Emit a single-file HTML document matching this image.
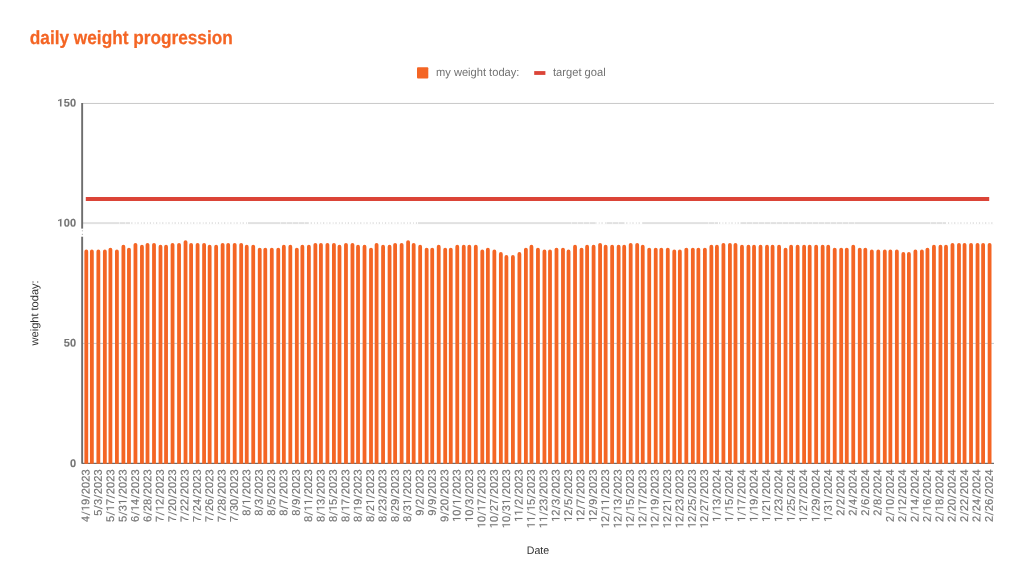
<!DOCTYPE html>
<html><head><meta charset="utf-8"><title>daily weight progression</title>
<style>
html,body{margin:0;padding:0;background:#fff;}
body{width:1023px;height:585px;overflow:hidden;}
svg{display:block;will-change:transform;}
text{font-family:"Liberation Sans",sans-serif;text-rendering:geometricPrecision;}
.t{font-size:11.1px;fill:#757575;stroke:#757575;stroke-width:0.18px;}
.p{fill:#757575;stroke:#757575;stroke-width:0.1px;}
.h{fill:none;stroke:none;}
.yt{font-size:11px;font-weight:bold;fill:#757575;stroke:#757575;stroke-width:0.12px;letter-spacing:0.25px;}
</style></head><body>
<svg width="1023" height="585" viewBox="0 0 1023 585">
<rect x="0" y="0" width="1023" height="585" fill="#ffffff"/>
<text x="29.8" y="44.1" font-size="19" font-weight="bold" fill="#F46524" stroke="#F46524" stroke-width="0.25" textLength="203" lengthAdjust="spacingAndGlyphs">daily weight progression</text>
<rect x="417" y="67.3" width="11.3" height="11.2" rx="1" fill="#F46524"/>
<text x="436" y="76.1" font-size="11.5" fill="#727272" textLength="83.4" lengthAdjust="spacingAndGlyphs">my weight today:</text>
<rect x="534.2" y="71.1" width="11.2" height="3.8" fill="#DB4437"/>
<text x="553" y="76.1" font-size="11.5" fill="#727272" textLength="52.7" lengthAdjust="spacingAndGlyphs">target goal</text>
<rect x="83" y="102.95" width="911" height="0.95" fill="#c6c6c6"/>
<rect x="83" y="222.1" width="911" height="2" fill="#e1e1e1"/>
<rect x="83" y="342.9" width="911" height="1.1" fill="#c9d1d6"/>
<line x1="130" y1="223.1" x2="248" y2="223.1" stroke="#ffffff" stroke-width="2.3" stroke-dasharray="2.3 0.8 1.9 1.187" stroke-dashoffset="3.74"/>
<line x1="308" y1="223.1" x2="418" y2="223.1" stroke="#ffffff" stroke-width="2.3" stroke-dasharray="2.3 0.8 1.9 1.187" stroke-dashoffset="2.31"/>
<line x1="595" y1="223.1" x2="606" y2="223.1" stroke="#ffffff" stroke-width="2.3" stroke-dasharray="2.3 0.8 1.9 1.187" stroke-dashoffset="4.71"/>
<line x1="625" y1="223.1" x2="643" y2="223.1" stroke="#ffffff" stroke-width="2.3" stroke-dasharray="2.3 0.8 1.9 1.187" stroke-dashoffset="3.78"/>
<line x1="718" y1="223.1" x2="740" y2="223.1" stroke="#ffffff" stroke-width="2.3" stroke-dasharray="2.3 0.8 1.9 1.187" stroke-dashoffset="3.97"/>
<line x1="946" y1="223.1" x2="994" y2="223.1" stroke="#ffffff" stroke-width="2.3" stroke-dasharray="2.3 0.8 1.9 1.187" stroke-dashoffset="3.05"/>
<line x1="119" y1="223.1" x2="130" y2="223.1" stroke="#ffffff" stroke-width="2.2" stroke-dasharray="0.5 5.5"/>
<line x1="280" y1="223.1" x2="308" y2="223.1" stroke="#ffffff" stroke-width="2.2" stroke-dasharray="0.5 5.5"/>
<line x1="571" y1="223.1" x2="595" y2="223.1" stroke="#ffffff" stroke-width="2.2" stroke-dasharray="0.5 5.5"/>
<line x1="606" y1="223.1" x2="625" y2="223.1" stroke="#ffffff" stroke-width="2.2" stroke-dasharray="0.5 5.5"/>
<line x1="708" y1="223.1" x2="718" y2="223.1" stroke="#ffffff" stroke-width="2.2" stroke-dasharray="0.5 5.5"/>
<line x1="740" y1="223.1" x2="856" y2="223.1" stroke="#ffffff" stroke-width="2.2" stroke-dasharray="0.5 5.5"/>
<line x1="930" y1="223.1" x2="946" y2="223.1" stroke="#ffffff" stroke-width="2.2" stroke-dasharray="0.5 5.5"/>
<rect x="82" y="462.8" width="912" height="1.1" fill="#5c5c5c"/>
<path fill="#F46524" d="M84.40 463.8V251.40A1.90 1.90 0 0 1 88.20 251.40V463.8ZM89.96 463.8V251.40A1.90 1.90 0 0 1 93.76 251.40V463.8ZM96.46 463.8V251.40A1.90 1.90 0 0 1 100.26 251.40V463.8ZM102.95 463.8V251.40A1.90 1.90 0 0 1 106.75 251.40V463.8ZM108.51 463.8V249.60A1.90 1.90 0 0 1 112.31 249.60V463.8ZM115.00 463.8V251.40A1.90 1.90 0 0 1 118.80 251.40V463.8ZM121.50 463.8V246.70A1.90 1.90 0 0 1 125.30 246.70V463.8ZM127.06 463.8V249.60A1.90 1.90 0 0 1 130.86 249.60V463.8ZM133.55 463.8V244.80A1.90 1.90 0 0 1 137.35 244.80V463.8ZM140.04 463.8V246.70A1.90 1.90 0 0 1 143.84 246.70V463.8ZM145.61 463.8V244.80A1.90 1.90 0 0 1 149.41 244.80V463.8ZM152.10 463.8V244.80A1.90 1.90 0 0 1 155.90 244.80V463.8ZM158.59 463.8V246.70A1.90 1.90 0 0 1 162.39 246.70V463.8ZM164.16 463.8V246.70A1.90 1.90 0 0 1 167.96 246.70V463.8ZM170.65 463.8V244.80A1.90 1.90 0 0 1 174.45 244.80V463.8ZM177.14 463.8V244.80A1.90 1.90 0 0 1 180.94 244.80V463.8ZM183.63 463.8V242.10A1.90 1.90 0 0 1 187.43 242.10V463.8ZM189.20 463.8V244.80A1.90 1.90 0 0 1 193.00 244.80V463.8ZM195.69 463.8V244.80A1.90 1.90 0 0 1 199.49 244.80V463.8ZM202.18 463.8V244.80A1.90 1.90 0 0 1 205.98 244.80V463.8ZM207.74 463.8V246.70A1.90 1.90 0 0 1 211.54 246.70V463.8ZM214.24 463.8V246.70A1.90 1.90 0 0 1 218.04 246.70V463.8ZM220.73 463.8V244.80A1.90 1.90 0 0 1 224.53 244.80V463.8ZM226.29 463.8V244.80A1.90 1.90 0 0 1 230.09 244.80V463.8ZM232.78 463.8V244.80A1.90 1.90 0 0 1 236.58 244.80V463.8ZM239.28 463.8V244.80A1.90 1.90 0 0 1 243.08 244.80V463.8ZM244.84 463.8V246.70A1.90 1.90 0 0 1 248.64 246.70V463.8ZM251.33 463.8V246.70A1.90 1.90 0 0 1 255.13 246.70V463.8ZM257.82 463.8V249.60A1.90 1.90 0 0 1 261.62 249.60V463.8ZM263.39 463.8V249.60A1.90 1.90 0 0 1 267.19 249.60V463.8ZM269.88 463.8V249.60A1.90 1.90 0 0 1 273.68 249.60V463.8ZM276.37 463.8V249.60A1.90 1.90 0 0 1 280.17 249.60V463.8ZM281.94 463.8V246.70A1.90 1.90 0 0 1 285.74 246.70V463.8ZM288.43 463.8V246.70A1.90 1.90 0 0 1 292.23 246.70V463.8ZM294.92 463.8V249.60A1.90 1.90 0 0 1 298.72 249.60V463.8ZM300.48 463.8V246.70A1.90 1.90 0 0 1 304.28 246.70V463.8ZM306.98 463.8V246.70A1.90 1.90 0 0 1 310.78 246.70V463.8ZM313.47 463.8V244.80A1.90 1.90 0 0 1 317.27 244.80V463.8ZM319.03 463.8V244.80A1.90 1.90 0 0 1 322.83 244.80V463.8ZM325.52 463.8V244.80A1.90 1.90 0 0 1 329.32 244.80V463.8ZM332.02 463.8V244.80A1.90 1.90 0 0 1 335.82 244.80V463.8ZM337.58 463.8V246.70A1.90 1.90 0 0 1 341.38 246.70V463.8ZM344.07 463.8V244.80A1.90 1.90 0 0 1 347.87 244.80V463.8ZM350.56 463.8V244.80A1.90 1.90 0 0 1 354.36 244.80V463.8ZM356.13 463.8V246.70A1.90 1.90 0 0 1 359.93 246.70V463.8ZM362.62 463.8V246.70A1.90 1.90 0 0 1 366.42 246.70V463.8ZM369.11 463.8V249.60A1.90 1.90 0 0 1 372.91 249.60V463.8ZM374.68 463.8V244.80A1.90 1.90 0 0 1 378.48 244.80V463.8ZM381.17 463.8V246.70A1.90 1.90 0 0 1 384.97 246.70V463.8ZM387.66 463.8V246.70A1.90 1.90 0 0 1 391.46 246.70V463.8ZM393.22 463.8V244.80A1.90 1.90 0 0 1 397.02 244.80V463.8ZM399.72 463.8V244.80A1.90 1.90 0 0 1 403.52 244.80V463.8ZM406.21 463.8V242.10A1.90 1.90 0 0 1 410.01 242.10V463.8ZM411.77 463.8V244.80A1.90 1.90 0 0 1 415.57 244.80V463.8ZM418.26 463.8V246.70A1.90 1.90 0 0 1 422.06 246.70V463.8ZM424.76 463.8V249.60A1.90 1.90 0 0 1 428.56 249.60V463.8ZM430.32 463.8V249.60A1.90 1.90 0 0 1 434.12 249.60V463.8ZM436.81 463.8V246.70A1.90 1.90 0 0 1 440.61 246.70V463.8ZM443.30 463.8V249.60A1.90 1.90 0 0 1 447.10 249.60V463.8ZM448.87 463.8V249.60A1.90 1.90 0 0 1 452.67 249.60V463.8ZM455.36 463.8V246.70A1.90 1.90 0 0 1 459.16 246.70V463.8ZM461.85 463.8V246.70A1.90 1.90 0 0 1 465.65 246.70V463.8ZM467.42 463.8V246.70A1.90 1.90 0 0 1 471.22 246.70V463.8ZM473.91 463.8V246.70A1.90 1.90 0 0 1 477.71 246.70V463.8ZM480.40 463.8V251.40A1.90 1.90 0 0 1 484.20 251.40V463.8ZM485.96 463.8V249.60A1.90 1.90 0 0 1 489.76 249.60V463.8ZM492.46 463.8V251.40A1.90 1.90 0 0 1 496.26 251.40V463.8ZM498.95 463.8V254.00A1.90 1.90 0 0 1 502.75 254.00V463.8ZM504.51 463.8V257.00A1.90 1.90 0 0 1 508.31 257.00V463.8ZM511.00 463.8V257.00A1.90 1.90 0 0 1 514.80 257.00V463.8ZM517.50 463.8V254.00A1.90 1.90 0 0 1 521.30 254.00V463.8ZM523.99 463.8V249.60A1.90 1.90 0 0 1 527.79 249.60V463.8ZM529.55 463.8V246.70A1.90 1.90 0 0 1 533.35 246.70V463.8ZM536.04 463.8V249.60A1.90 1.90 0 0 1 539.84 249.60V463.8ZM542.54 463.8V251.40A1.90 1.90 0 0 1 546.34 251.40V463.8ZM548.10 463.8V251.40A1.90 1.90 0 0 1 551.90 251.40V463.8ZM554.59 463.8V249.60A1.90 1.90 0 0 1 558.39 249.60V463.8ZM561.08 463.8V249.60A1.90 1.90 0 0 1 564.88 249.60V463.8ZM566.65 463.8V251.40A1.90 1.90 0 0 1 570.45 251.40V463.8ZM573.14 463.8V246.70A1.90 1.90 0 0 1 576.94 246.70V463.8ZM579.63 463.8V249.60A1.90 1.90 0 0 1 583.43 249.60V463.8ZM585.20 463.8V246.70A1.90 1.90 0 0 1 589.00 246.70V463.8ZM591.69 463.8V246.70A1.90 1.90 0 0 1 595.49 246.70V463.8ZM598.18 463.8V244.80A1.90 1.90 0 0 1 601.98 244.80V463.8ZM603.74 463.8V246.70A1.90 1.90 0 0 1 607.54 246.70V463.8ZM610.24 463.8V246.70A1.90 1.90 0 0 1 614.04 246.70V463.8ZM616.73 463.8V246.70A1.90 1.90 0 0 1 620.53 246.70V463.8ZM622.29 463.8V246.70A1.90 1.90 0 0 1 626.09 246.70V463.8ZM628.78 463.8V244.80A1.90 1.90 0 0 1 632.58 244.80V463.8ZM635.28 463.8V244.80A1.90 1.90 0 0 1 639.08 244.80V463.8ZM640.84 463.8V246.70A1.90 1.90 0 0 1 644.64 246.70V463.8ZM647.33 463.8V249.60A1.90 1.90 0 0 1 651.13 249.60V463.8ZM653.82 463.8V249.60A1.90 1.90 0 0 1 657.62 249.60V463.8ZM659.39 463.8V249.60A1.90 1.90 0 0 1 663.19 249.60V463.8ZM665.88 463.8V249.60A1.90 1.90 0 0 1 669.68 249.60V463.8ZM672.37 463.8V251.40A1.90 1.90 0 0 1 676.17 251.40V463.8ZM677.94 463.8V251.40A1.90 1.90 0 0 1 681.74 251.40V463.8ZM684.43 463.8V249.60A1.90 1.90 0 0 1 688.23 249.60V463.8ZM690.92 463.8V249.60A1.90 1.90 0 0 1 694.72 249.60V463.8ZM696.48 463.8V249.60A1.90 1.90 0 0 1 700.28 249.60V463.8ZM702.98 463.8V249.60A1.90 1.90 0 0 1 706.78 249.60V463.8ZM709.47 463.8V246.70A1.90 1.90 0 0 1 713.27 246.70V463.8ZM715.03 463.8V246.70A1.90 1.90 0 0 1 718.83 246.70V463.8ZM721.52 463.8V244.80A1.90 1.90 0 0 1 725.32 244.80V463.8ZM728.02 463.8V244.80A1.90 1.90 0 0 1 731.82 244.80V463.8ZM733.58 463.8V244.80A1.90 1.90 0 0 1 737.38 244.80V463.8ZM740.07 463.8V246.70A1.90 1.90 0 0 1 743.87 246.70V463.8ZM746.56 463.8V246.70A1.90 1.90 0 0 1 750.36 246.70V463.8ZM752.13 463.8V246.70A1.90 1.90 0 0 1 755.93 246.70V463.8ZM758.62 463.8V246.70A1.90 1.90 0 0 1 762.42 246.70V463.8ZM765.11 463.8V246.70A1.90 1.90 0 0 1 768.91 246.70V463.8ZM770.68 463.8V246.70A1.90 1.90 0 0 1 774.48 246.70V463.8ZM777.17 463.8V246.70A1.90 1.90 0 0 1 780.97 246.70V463.8ZM783.66 463.8V249.60A1.90 1.90 0 0 1 787.46 249.60V463.8ZM789.22 463.8V246.70A1.90 1.90 0 0 1 793.02 246.70V463.8ZM795.72 463.8V246.70A1.90 1.90 0 0 1 799.52 246.70V463.8ZM802.21 463.8V246.70A1.90 1.90 0 0 1 806.01 246.70V463.8ZM807.77 463.8V246.70A1.90 1.90 0 0 1 811.57 246.70V463.8ZM814.26 463.8V246.70A1.90 1.90 0 0 1 818.06 246.70V463.8ZM820.76 463.8V246.70A1.90 1.90 0 0 1 824.56 246.70V463.8ZM826.32 463.8V246.70A1.90 1.90 0 0 1 830.12 246.70V463.8ZM832.81 463.8V249.60A1.90 1.90 0 0 1 836.61 249.60V463.8ZM839.30 463.8V249.60A1.90 1.90 0 0 1 843.10 249.60V463.8ZM844.87 463.8V249.60A1.90 1.90 0 0 1 848.67 249.60V463.8ZM851.36 463.8V246.70A1.90 1.90 0 0 1 855.16 246.70V463.8ZM857.85 463.8V249.60A1.90 1.90 0 0 1 861.65 249.60V463.8ZM863.42 463.8V249.60A1.90 1.90 0 0 1 867.22 249.60V463.8ZM869.91 463.8V251.40A1.90 1.90 0 0 1 873.71 251.40V463.8ZM876.40 463.8V251.40A1.90 1.90 0 0 1 880.20 251.40V463.8ZM882.89 463.8V251.40A1.90 1.90 0 0 1 886.69 251.40V463.8ZM888.46 463.8V251.40A1.90 1.90 0 0 1 892.26 251.40V463.8ZM894.95 463.8V251.40A1.90 1.90 0 0 1 898.75 251.40V463.8ZM901.44 463.8V254.00A1.90 1.90 0 0 1 905.24 254.00V463.8ZM907.00 463.8V254.00A1.90 1.90 0 0 1 910.80 254.00V463.8ZM913.50 463.8V251.40A1.90 1.90 0 0 1 917.30 251.40V463.8ZM919.99 463.8V251.40A1.90 1.90 0 0 1 923.79 251.40V463.8ZM925.55 463.8V249.60A1.90 1.90 0 0 1 929.35 249.60V463.8ZM932.04 463.8V246.70A1.90 1.90 0 0 1 935.84 246.70V463.8ZM938.54 463.8V246.70A1.90 1.90 0 0 1 942.34 246.70V463.8ZM944.10 463.8V246.70A1.90 1.90 0 0 1 947.90 246.70V463.8ZM950.59 463.8V244.80A1.90 1.90 0 0 1 954.39 244.80V463.8ZM957.08 463.8V244.80A1.90 1.90 0 0 1 960.88 244.80V463.8ZM962.65 463.8V244.80A1.90 1.90 0 0 1 966.45 244.80V463.8ZM969.14 463.8V244.80A1.90 1.90 0 0 1 972.94 244.80V463.8ZM975.63 463.8V244.80A1.90 1.90 0 0 1 979.43 244.80V463.8ZM981.20 463.8V244.80A1.90 1.90 0 0 1 985.00 244.80V463.8ZM987.69 463.8V244.80A1.90 1.90 0 0 1 991.49 244.80V463.8Z"/>
<rect x="83" y="342.9" width="911" height="1" fill="#ffffff" opacity="0.04"/>
<rect x="81.2" y="103" width="1.9" height="360.7" fill="#6e6e6e"/>
<rect x="80" y="228.6" width="5" height="8.1" fill="#ffffff"/>
<rect x="81.9" y="230.2" width="0.7" height="1.2" fill="#9a9a9a"/>
<rect x="81.9" y="233.8" width="0.7" height="1.2" fill="#8a8a8a"/>
<rect x="85.8" y="197" width="903.4" height="4" fill="#DB4437"/>
<text class="yt" transform="translate(76.45 106.6) rotate(0.03)" text-anchor="end"><tspan class="h">1</tspan>50</text>
<path fill="#757575" d="M61.50 106.60H59.95V100.62L58.10 101.19V99.93L61.34 98.78H61.50Z"/>
<text class="yt" transform="translate(76.45 226.6) rotate(0.03)" text-anchor="end"><tspan class="h">1</tspan>00</text>
<path fill="#757575" d="M61.50 226.60H59.95V220.62L58.10 221.19V219.93L61.34 218.78H61.50Z"/>
<text class="yt" transform="translate(76.45 346.6) rotate(0.03)" text-anchor="end">50</text>
<text class="yt" transform="translate(76.45 466.9) rotate(0.03)" text-anchor="end">0</text>
<text font-size="11" fill="#303030" transform="translate(38.3 345.4) rotate(-89.95)" textLength="65" lengthAdjust="spacingAndGlyphs">weight today:</text>
<text x="526.8" y="554" font-size="11" fill="#303030" textLength="22.4" lengthAdjust="spacingAndGlyphs">Date</text>
<g transform="translate(89.40 469.3) rotate(-89.95)"><text class="t" x="-52.62 -46.42 -41.87 -35.63 -29.43 -24.86 -18.64 -12.42 -6.20">4<tspan class="h">/1</tspan>9<tspan class="h">/</tspan>2023</text><path class="p" d="M-45.29 0.67H-46.09L-43.08 -7.82H-42.28ZM-37.95 0H-38.95V-6.62L-40.95 -5.89V-6.79L-38.11 -7.86H-37.95ZM-28.30 0.67H-29.10L-26.09 -7.82H-25.29Z"/></g>
<g transform="translate(101.77 469.3) rotate(-89.95)"><text class="t" x="-46.40 -40.20 -35.63 -29.43 -24.86 -18.64 -12.42 -6.20">5<tspan class="h">/</tspan>3<tspan class="h">/</tspan>2023</text><path class="p" d="M-39.07 0.67H-39.87L-36.86 -7.82H-36.06ZM-28.30 0.67H-29.10L-26.09 -7.82H-25.29Z"/></g>
<g transform="translate(114.15 469.3) rotate(-89.95)"><text class="t" x="-52.62 -46.42 -41.87 -35.63 -29.43 -24.86 -18.64 -12.42 -6.20">5<tspan class="h">/1</tspan>7<tspan class="h">/</tspan>2023</text><path class="p" d="M-45.29 0.67H-46.09L-43.08 -7.82H-42.28ZM-37.95 0H-38.95V-6.62L-40.95 -5.89V-6.79L-38.11 -7.86H-37.95ZM-28.30 0.67H-29.10L-26.09 -7.82H-25.29Z"/></g>
<g transform="translate(126.52 469.3) rotate(-89.95)"><text class="t" x="-52.62 -46.42 -41.85 -35.65 -29.43 -24.86 -18.64 -12.42 -6.20">5<tspan class="h">/</tspan>3<tspan class="h">1/</tspan>2023</text><path class="p" d="M-45.29 0.67H-46.09L-43.08 -7.82H-42.28ZM-31.73 0H-32.73V-6.62L-34.73 -5.89V-6.79L-31.89 -7.86H-31.73ZM-28.30 0.67H-29.10L-26.09 -7.82H-25.29Z"/></g>
<g transform="translate(138.90 469.3) rotate(-89.95)"><text class="t" x="-52.62 -46.42 -41.87 -35.63 -29.43 -24.86 -18.64 -12.42 -6.20">6<tspan class="h">/1</tspan>4<tspan class="h">/</tspan>2023</text><path class="p" d="M-45.29 0.67H-46.09L-43.08 -7.82H-42.28ZM-37.95 0H-38.95V-6.62L-40.95 -5.89V-6.79L-38.11 -7.86H-37.95ZM-28.30 0.67H-29.10L-26.09 -7.82H-25.29Z"/></g>
<g transform="translate(151.27 469.3) rotate(-89.95)"><text class="t" x="-52.62 -46.42 -41.85 -35.63 -29.43 -24.86 -18.64 -12.42 -6.20">6<tspan class="h">/</tspan>28<tspan class="h">/</tspan>2023</text><path class="p" d="M-45.29 0.67H-46.09L-43.08 -7.82H-42.28ZM-28.30 0.67H-29.10L-26.09 -7.82H-25.29Z"/></g>
<g transform="translate(163.64 469.3) rotate(-89.95)"><text class="t" x="-52.62 -46.42 -41.87 -35.63 -29.43 -24.86 -18.64 -12.42 -6.20">7<tspan class="h">/1</tspan>2<tspan class="h">/</tspan>2023</text><path class="p" d="M-45.29 0.67H-46.09L-43.08 -7.82H-42.28ZM-37.95 0H-38.95V-6.62L-40.95 -5.89V-6.79L-38.11 -7.86H-37.95ZM-28.30 0.67H-29.10L-26.09 -7.82H-25.29Z"/></g>
<g transform="translate(176.02 469.3) rotate(-89.95)"><text class="t" x="-52.62 -46.42 -41.85 -35.63 -29.43 -24.86 -18.64 -12.42 -6.20">7<tspan class="h">/</tspan>20<tspan class="h">/</tspan>2023</text><path class="p" d="M-45.29 0.67H-46.09L-43.08 -7.82H-42.28ZM-28.30 0.67H-29.10L-26.09 -7.82H-25.29Z"/></g>
<g transform="translate(188.39 469.3) rotate(-89.95)"><text class="t" x="-52.62 -46.42 -41.85 -35.63 -29.43 -24.86 -18.64 -12.42 -6.20">7<tspan class="h">/</tspan>22<tspan class="h">/</tspan>2023</text><path class="p" d="M-45.29 0.67H-46.09L-43.08 -7.82H-42.28ZM-28.30 0.67H-29.10L-26.09 -7.82H-25.29Z"/></g>
<g transform="translate(200.77 469.3) rotate(-89.95)"><text class="t" x="-52.62 -46.42 -41.85 -35.63 -29.43 -24.86 -18.64 -12.42 -6.20">7<tspan class="h">/</tspan>24<tspan class="h">/</tspan>2023</text><path class="p" d="M-45.29 0.67H-46.09L-43.08 -7.82H-42.28ZM-28.30 0.67H-29.10L-26.09 -7.82H-25.29Z"/></g>
<g transform="translate(213.14 469.3) rotate(-89.95)"><text class="t" x="-52.62 -46.42 -41.85 -35.63 -29.43 -24.86 -18.64 -12.42 -6.20">7<tspan class="h">/</tspan>26<tspan class="h">/</tspan>2023</text><path class="p" d="M-45.29 0.67H-46.09L-43.08 -7.82H-42.28ZM-28.30 0.67H-29.10L-26.09 -7.82H-25.29Z"/></g>
<g transform="translate(225.51 469.3) rotate(-89.95)"><text class="t" x="-52.62 -46.42 -41.85 -35.63 -29.43 -24.86 -18.64 -12.42 -6.20">7<tspan class="h">/</tspan>28<tspan class="h">/</tspan>2023</text><path class="p" d="M-45.29 0.67H-46.09L-43.08 -7.82H-42.28ZM-28.30 0.67H-29.10L-26.09 -7.82H-25.29Z"/></g>
<g transform="translate(237.89 469.3) rotate(-89.95)"><text class="t" x="-52.62 -46.42 -41.85 -35.63 -29.43 -24.86 -18.64 -12.42 -6.20">7<tspan class="h">/</tspan>30<tspan class="h">/</tspan>2023</text><path class="p" d="M-45.29 0.67H-46.09L-43.08 -7.82H-42.28ZM-28.30 0.67H-29.10L-26.09 -7.82H-25.29Z"/></g>
<g transform="translate(250.26 469.3) rotate(-89.95)"><text class="t" x="-46.40 -40.20 -35.65 -29.43 -24.86 -18.64 -12.42 -6.20">8<tspan class="h">/1/</tspan>2023</text><path class="p" d="M-39.07 0.67H-39.87L-36.86 -7.82H-36.06ZM-31.73 0H-32.73V-6.62L-34.73 -5.89V-6.79L-31.89 -7.86H-31.73ZM-28.30 0.67H-29.10L-26.09 -7.82H-25.29Z"/></g>
<g transform="translate(262.64 469.3) rotate(-89.95)"><text class="t" x="-46.40 -40.20 -35.63 -29.43 -24.86 -18.64 -12.42 -6.20">8<tspan class="h">/</tspan>3<tspan class="h">/</tspan>2023</text><path class="p" d="M-39.07 0.67H-39.87L-36.86 -7.82H-36.06ZM-28.30 0.67H-29.10L-26.09 -7.82H-25.29Z"/></g>
<g transform="translate(275.01 469.3) rotate(-89.95)"><text class="t" x="-46.40 -40.20 -35.63 -29.43 -24.86 -18.64 -12.42 -6.20">8<tspan class="h">/</tspan>5<tspan class="h">/</tspan>2023</text><path class="p" d="M-39.07 0.67H-39.87L-36.86 -7.82H-36.06ZM-28.30 0.67H-29.10L-26.09 -7.82H-25.29Z"/></g>
<g transform="translate(287.38 469.3) rotate(-89.95)"><text class="t" x="-46.40 -40.20 -35.63 -29.43 -24.86 -18.64 -12.42 -6.20">8<tspan class="h">/</tspan>7<tspan class="h">/</tspan>2023</text><path class="p" d="M-39.07 0.67H-39.87L-36.86 -7.82H-36.06ZM-28.30 0.67H-29.10L-26.09 -7.82H-25.29Z"/></g>
<g transform="translate(299.76 469.3) rotate(-89.95)"><text class="t" x="-46.40 -40.20 -35.63 -29.43 -24.86 -18.64 -12.42 -6.20">8<tspan class="h">/</tspan>9<tspan class="h">/</tspan>2023</text><path class="p" d="M-39.07 0.67H-39.87L-36.86 -7.82H-36.06ZM-28.30 0.67H-29.10L-26.09 -7.82H-25.29Z"/></g>
<g transform="translate(312.13 469.3) rotate(-89.95)"><text class="t" x="-52.62 -46.42 -41.87 -35.65 -29.43 -24.86 -18.64 -12.42 -6.20">8<tspan class="h">/11/</tspan>2023</text><path class="p" d="M-45.29 0.67H-46.09L-43.08 -7.82H-42.28ZM-37.95 0H-38.95V-6.62L-40.95 -5.89V-6.79L-38.11 -7.86H-37.95ZM-31.73 0H-32.73V-6.62L-34.73 -5.89V-6.79L-31.89 -7.86H-31.73ZM-28.30 0.67H-29.10L-26.09 -7.82H-25.29Z"/></g>
<g transform="translate(324.51 469.3) rotate(-89.95)"><text class="t" x="-52.62 -46.42 -41.87 -35.63 -29.43 -24.86 -18.64 -12.42 -6.20">8<tspan class="h">/1</tspan>3<tspan class="h">/</tspan>2023</text><path class="p" d="M-45.29 0.67H-46.09L-43.08 -7.82H-42.28ZM-37.95 0H-38.95V-6.62L-40.95 -5.89V-6.79L-38.11 -7.86H-37.95ZM-28.30 0.67H-29.10L-26.09 -7.82H-25.29Z"/></g>
<g transform="translate(336.88 469.3) rotate(-89.95)"><text class="t" x="-52.62 -46.42 -41.87 -35.63 -29.43 -24.86 -18.64 -12.42 -6.20">8<tspan class="h">/1</tspan>5<tspan class="h">/</tspan>2023</text><path class="p" d="M-45.29 0.67H-46.09L-43.08 -7.82H-42.28ZM-37.95 0H-38.95V-6.62L-40.95 -5.89V-6.79L-38.11 -7.86H-37.95ZM-28.30 0.67H-29.10L-26.09 -7.82H-25.29Z"/></g>
<g transform="translate(349.25 469.3) rotate(-89.95)"><text class="t" x="-52.62 -46.42 -41.87 -35.63 -29.43 -24.86 -18.64 -12.42 -6.20">8<tspan class="h">/1</tspan>7<tspan class="h">/</tspan>2023</text><path class="p" d="M-45.29 0.67H-46.09L-43.08 -7.82H-42.28ZM-37.95 0H-38.95V-6.62L-40.95 -5.89V-6.79L-38.11 -7.86H-37.95ZM-28.30 0.67H-29.10L-26.09 -7.82H-25.29Z"/></g>
<g transform="translate(361.63 469.3) rotate(-89.95)"><text class="t" x="-52.62 -46.42 -41.87 -35.63 -29.43 -24.86 -18.64 -12.42 -6.20">8<tspan class="h">/1</tspan>9<tspan class="h">/</tspan>2023</text><path class="p" d="M-45.29 0.67H-46.09L-43.08 -7.82H-42.28ZM-37.95 0H-38.95V-6.62L-40.95 -5.89V-6.79L-38.11 -7.86H-37.95ZM-28.30 0.67H-29.10L-26.09 -7.82H-25.29Z"/></g>
<g transform="translate(374.00 469.3) rotate(-89.95)"><text class="t" x="-52.62 -46.42 -41.85 -35.65 -29.43 -24.86 -18.64 -12.42 -6.20">8<tspan class="h">/</tspan>2<tspan class="h">1/</tspan>2023</text><path class="p" d="M-45.29 0.67H-46.09L-43.08 -7.82H-42.28ZM-31.73 0H-32.73V-6.62L-34.73 -5.89V-6.79L-31.89 -7.86H-31.73ZM-28.30 0.67H-29.10L-26.09 -7.82H-25.29Z"/></g>
<g transform="translate(386.38 469.3) rotate(-89.95)"><text class="t" x="-52.62 -46.42 -41.85 -35.63 -29.43 -24.86 -18.64 -12.42 -6.20">8<tspan class="h">/</tspan>23<tspan class="h">/</tspan>2023</text><path class="p" d="M-45.29 0.67H-46.09L-43.08 -7.82H-42.28ZM-28.30 0.67H-29.10L-26.09 -7.82H-25.29Z"/></g>
<g transform="translate(398.75 469.3) rotate(-89.95)"><text class="t" x="-52.62 -46.42 -41.85 -35.63 -29.43 -24.86 -18.64 -12.42 -6.20">8<tspan class="h">/</tspan>29<tspan class="h">/</tspan>2023</text><path class="p" d="M-45.29 0.67H-46.09L-43.08 -7.82H-42.28ZM-28.30 0.67H-29.10L-26.09 -7.82H-25.29Z"/></g>
<g transform="translate(411.12 469.3) rotate(-89.95)"><text class="t" x="-52.62 -46.42 -41.85 -35.65 -29.43 -24.86 -18.64 -12.42 -6.20">8<tspan class="h">/</tspan>3<tspan class="h">1/</tspan>2023</text><path class="p" d="M-45.29 0.67H-46.09L-43.08 -7.82H-42.28ZM-31.73 0H-32.73V-6.62L-34.73 -5.89V-6.79L-31.89 -7.86H-31.73ZM-28.30 0.67H-29.10L-26.09 -7.82H-25.29Z"/></g>
<g transform="translate(423.50 469.3) rotate(-89.95)"><text class="t" x="-46.40 -40.20 -35.63 -29.43 -24.86 -18.64 -12.42 -6.20">9<tspan class="h">/</tspan>2<tspan class="h">/</tspan>2023</text><path class="p" d="M-39.07 0.67H-39.87L-36.86 -7.82H-36.06ZM-28.30 0.67H-29.10L-26.09 -7.82H-25.29Z"/></g>
<g transform="translate(435.87 469.3) rotate(-89.95)"><text class="t" x="-46.40 -40.20 -35.63 -29.43 -24.86 -18.64 -12.42 -6.20">9<tspan class="h">/</tspan>9<tspan class="h">/</tspan>2023</text><path class="p" d="M-39.07 0.67H-39.87L-36.86 -7.82H-36.06ZM-28.30 0.67H-29.10L-26.09 -7.82H-25.29Z"/></g>
<g transform="translate(448.25 469.3) rotate(-89.95)"><text class="t" x="-52.62 -46.42 -41.85 -35.63 -29.43 -24.86 -18.64 -12.42 -6.20">9<tspan class="h">/</tspan>20<tspan class="h">/</tspan>2023</text><path class="p" d="M-45.29 0.67H-46.09L-43.08 -7.82H-42.28ZM-28.30 0.67H-29.10L-26.09 -7.82H-25.29Z"/></g>
<g transform="translate(460.62 469.3) rotate(-89.95)"><text class="t" x="-52.64 -46.40 -40.20 -35.65 -29.43 -24.86 -18.64 -12.42 -6.20"><tspan class="h">1</tspan>0<tspan class="h">/1/</tspan>2023</text><path class="p" d="M-48.72 0H-49.72V-6.62L-51.72 -5.89V-6.79L-48.88 -7.86H-48.72ZM-39.07 0.67H-39.87L-36.86 -7.82H-36.06ZM-31.73 0H-32.73V-6.62L-34.73 -5.89V-6.79L-31.89 -7.86H-31.73ZM-28.30 0.67H-29.10L-26.09 -7.82H-25.29Z"/></g>
<g transform="translate(472.99 469.3) rotate(-89.95)"><text class="t" x="-52.64 -46.40 -40.20 -35.63 -29.43 -24.86 -18.64 -12.42 -6.20"><tspan class="h">1</tspan>0<tspan class="h">/</tspan>3<tspan class="h">/</tspan>2023</text><path class="p" d="M-48.72 0H-49.72V-6.62L-51.72 -5.89V-6.79L-48.88 -7.86H-48.72ZM-39.07 0.67H-39.87L-36.86 -7.82H-36.06ZM-28.30 0.67H-29.10L-26.09 -7.82H-25.29Z"/></g>
<g transform="translate(485.37 469.3) rotate(-89.95)"><text class="t" x="-58.86 -52.62 -46.42 -41.87 -35.63 -29.43 -24.86 -18.64 -12.42 -6.20"><tspan class="h">1</tspan>0<tspan class="h">/1</tspan>7<tspan class="h">/</tspan>2023</text><path class="p" d="M-54.94 0H-55.94V-6.62L-57.94 -5.89V-6.79L-55.10 -7.86H-54.94ZM-45.29 0.67H-46.09L-43.08 -7.82H-42.28ZM-37.95 0H-38.95V-6.62L-40.95 -5.89V-6.79L-38.11 -7.86H-37.95ZM-28.30 0.67H-29.10L-26.09 -7.82H-25.29Z"/></g>
<g transform="translate(497.74 469.3) rotate(-89.95)"><text class="t" x="-58.86 -52.62 -46.42 -41.85 -35.63 -29.43 -24.86 -18.64 -12.42 -6.20"><tspan class="h">1</tspan>0<tspan class="h">/</tspan>27<tspan class="h">/</tspan>2023</text><path class="p" d="M-54.94 0H-55.94V-6.62L-57.94 -5.89V-6.79L-55.10 -7.86H-54.94ZM-45.29 0.67H-46.09L-43.08 -7.82H-42.28ZM-28.30 0.67H-29.10L-26.09 -7.82H-25.29Z"/></g>
<g transform="translate(510.12 469.3) rotate(-89.95)"><text class="t" x="-58.86 -52.62 -46.42 -41.85 -35.65 -29.43 -24.86 -18.64 -12.42 -6.20"><tspan class="h">1</tspan>0<tspan class="h">/</tspan>3<tspan class="h">1/</tspan>2023</text><path class="p" d="M-54.94 0H-55.94V-6.62L-57.94 -5.89V-6.79L-55.10 -7.86H-54.94ZM-45.29 0.67H-46.09L-43.08 -7.82H-42.28ZM-31.73 0H-32.73V-6.62L-34.73 -5.89V-6.79L-31.89 -7.86H-31.73ZM-28.30 0.67H-29.10L-26.09 -7.82H-25.29Z"/></g>
<g transform="translate(522.49 469.3) rotate(-89.95)"><text class="t" x="-52.64 -46.42 -40.20 -35.63 -29.43 -24.86 -18.64 -12.42 -6.20"><tspan class="h">11/</tspan>2<tspan class="h">/</tspan>2023</text><path class="p" d="M-48.72 0H-49.72V-6.62L-51.72 -5.89V-6.79L-48.88 -7.86H-48.72ZM-42.50 0H-43.50V-6.62L-45.50 -5.89V-6.79L-42.66 -7.86H-42.50ZM-39.07 0.67H-39.87L-36.86 -7.82H-36.06ZM-28.30 0.67H-29.10L-26.09 -7.82H-25.29Z"/></g>
<g transform="translate(534.86 469.3) rotate(-89.95)"><text class="t" x="-58.86 -52.64 -46.42 -41.87 -35.63 -29.43 -24.86 -18.64 -12.42 -6.20"><tspan class="h">11/1</tspan>5<tspan class="h">/</tspan>2023</text><path class="p" d="M-54.94 0H-55.94V-6.62L-57.94 -5.89V-6.79L-55.10 -7.86H-54.94ZM-48.72 0H-49.72V-6.62L-51.72 -5.89V-6.79L-48.88 -7.86H-48.72ZM-45.29 0.67H-46.09L-43.08 -7.82H-42.28ZM-37.95 0H-38.95V-6.62L-40.95 -5.89V-6.79L-38.11 -7.86H-37.95ZM-28.30 0.67H-29.10L-26.09 -7.82H-25.29Z"/></g>
<g transform="translate(547.24 469.3) rotate(-89.95)"><text class="t" x="-58.86 -52.64 -46.42 -41.85 -35.63 -29.43 -24.86 -18.64 -12.42 -6.20"><tspan class="h">11/</tspan>23<tspan class="h">/</tspan>2023</text><path class="p" d="M-54.94 0H-55.94V-6.62L-57.94 -5.89V-6.79L-55.10 -7.86H-54.94ZM-48.72 0H-49.72V-6.62L-51.72 -5.89V-6.79L-48.88 -7.86H-48.72ZM-45.29 0.67H-46.09L-43.08 -7.82H-42.28ZM-28.30 0.67H-29.10L-26.09 -7.82H-25.29Z"/></g>
<g transform="translate(559.61 469.3) rotate(-89.95)"><text class="t" x="-52.64 -46.40 -40.20 -35.63 -29.43 -24.86 -18.64 -12.42 -6.20"><tspan class="h">1</tspan>2<tspan class="h">/</tspan>3<tspan class="h">/</tspan>2023</text><path class="p" d="M-48.72 0H-49.72V-6.62L-51.72 -5.89V-6.79L-48.88 -7.86H-48.72ZM-39.07 0.67H-39.87L-36.86 -7.82H-36.06ZM-28.30 0.67H-29.10L-26.09 -7.82H-25.29Z"/></g>
<g transform="translate(571.99 469.3) rotate(-89.95)"><text class="t" x="-52.64 -46.40 -40.20 -35.63 -29.43 -24.86 -18.64 -12.42 -6.20"><tspan class="h">1</tspan>2<tspan class="h">/</tspan>5<tspan class="h">/</tspan>2023</text><path class="p" d="M-48.72 0H-49.72V-6.62L-51.72 -5.89V-6.79L-48.88 -7.86H-48.72ZM-39.07 0.67H-39.87L-36.86 -7.82H-36.06ZM-28.30 0.67H-29.10L-26.09 -7.82H-25.29Z"/></g>
<g transform="translate(584.36 469.3) rotate(-89.95)"><text class="t" x="-52.64 -46.40 -40.20 -35.63 -29.43 -24.86 -18.64 -12.42 -6.20"><tspan class="h">1</tspan>2<tspan class="h">/</tspan>7<tspan class="h">/</tspan>2023</text><path class="p" d="M-48.72 0H-49.72V-6.62L-51.72 -5.89V-6.79L-48.88 -7.86H-48.72ZM-39.07 0.67H-39.87L-36.86 -7.82H-36.06ZM-28.30 0.67H-29.10L-26.09 -7.82H-25.29Z"/></g>
<g transform="translate(596.73 469.3) rotate(-89.95)"><text class="t" x="-52.64 -46.40 -40.20 -35.63 -29.43 -24.86 -18.64 -12.42 -6.20"><tspan class="h">1</tspan>2<tspan class="h">/</tspan>9<tspan class="h">/</tspan>2023</text><path class="p" d="M-48.72 0H-49.72V-6.62L-51.72 -5.89V-6.79L-48.88 -7.86H-48.72ZM-39.07 0.67H-39.87L-36.86 -7.82H-36.06ZM-28.30 0.67H-29.10L-26.09 -7.82H-25.29Z"/></g>
<g transform="translate(609.11 469.3) rotate(-89.95)"><text class="t" x="-58.86 -52.62 -46.42 -41.87 -35.65 -29.43 -24.86 -18.64 -12.42 -6.20"><tspan class="h">1</tspan>2<tspan class="h">/11/</tspan>2023</text><path class="p" d="M-54.94 0H-55.94V-6.62L-57.94 -5.89V-6.79L-55.10 -7.86H-54.94ZM-45.29 0.67H-46.09L-43.08 -7.82H-42.28ZM-37.95 0H-38.95V-6.62L-40.95 -5.89V-6.79L-38.11 -7.86H-37.95ZM-31.73 0H-32.73V-6.62L-34.73 -5.89V-6.79L-31.89 -7.86H-31.73ZM-28.30 0.67H-29.10L-26.09 -7.82H-25.29Z"/></g>
<g transform="translate(621.48 469.3) rotate(-89.95)"><text class="t" x="-58.86 -52.62 -46.42 -41.87 -35.63 -29.43 -24.86 -18.64 -12.42 -6.20"><tspan class="h">1</tspan>2<tspan class="h">/1</tspan>3<tspan class="h">/</tspan>2023</text><path class="p" d="M-54.94 0H-55.94V-6.62L-57.94 -5.89V-6.79L-55.10 -7.86H-54.94ZM-45.29 0.67H-46.09L-43.08 -7.82H-42.28ZM-37.95 0H-38.95V-6.62L-40.95 -5.89V-6.79L-38.11 -7.86H-37.95ZM-28.30 0.67H-29.10L-26.09 -7.82H-25.29Z"/></g>
<g transform="translate(633.86 469.3) rotate(-89.95)"><text class="t" x="-58.86 -52.62 -46.42 -41.87 -35.63 -29.43 -24.86 -18.64 -12.42 -6.20"><tspan class="h">1</tspan>2<tspan class="h">/1</tspan>5<tspan class="h">/</tspan>2023</text><path class="p" d="M-54.94 0H-55.94V-6.62L-57.94 -5.89V-6.79L-55.10 -7.86H-54.94ZM-45.29 0.67H-46.09L-43.08 -7.82H-42.28ZM-37.95 0H-38.95V-6.62L-40.95 -5.89V-6.79L-38.11 -7.86H-37.95ZM-28.30 0.67H-29.10L-26.09 -7.82H-25.29Z"/></g>
<g transform="translate(646.23 469.3) rotate(-89.95)"><text class="t" x="-58.86 -52.62 -46.42 -41.87 -35.63 -29.43 -24.86 -18.64 -12.42 -6.20"><tspan class="h">1</tspan>2<tspan class="h">/1</tspan>7<tspan class="h">/</tspan>2023</text><path class="p" d="M-54.94 0H-55.94V-6.62L-57.94 -5.89V-6.79L-55.10 -7.86H-54.94ZM-45.29 0.67H-46.09L-43.08 -7.82H-42.28ZM-37.95 0H-38.95V-6.62L-40.95 -5.89V-6.79L-38.11 -7.86H-37.95ZM-28.30 0.67H-29.10L-26.09 -7.82H-25.29Z"/></g>
<g transform="translate(658.60 469.3) rotate(-89.95)"><text class="t" x="-58.86 -52.62 -46.42 -41.87 -35.63 -29.43 -24.86 -18.64 -12.42 -6.20"><tspan class="h">1</tspan>2<tspan class="h">/1</tspan>9<tspan class="h">/</tspan>2023</text><path class="p" d="M-54.94 0H-55.94V-6.62L-57.94 -5.89V-6.79L-55.10 -7.86H-54.94ZM-45.29 0.67H-46.09L-43.08 -7.82H-42.28ZM-37.95 0H-38.95V-6.62L-40.95 -5.89V-6.79L-38.11 -7.86H-37.95ZM-28.30 0.67H-29.10L-26.09 -7.82H-25.29Z"/></g>
<g transform="translate(670.98 469.3) rotate(-89.95)"><text class="t" x="-58.86 -52.62 -46.42 -41.85 -35.65 -29.43 -24.86 -18.64 -12.42 -6.20"><tspan class="h">1</tspan>2<tspan class="h">/</tspan>2<tspan class="h">1/</tspan>2023</text><path class="p" d="M-54.94 0H-55.94V-6.62L-57.94 -5.89V-6.79L-55.10 -7.86H-54.94ZM-45.29 0.67H-46.09L-43.08 -7.82H-42.28ZM-31.73 0H-32.73V-6.62L-34.73 -5.89V-6.79L-31.89 -7.86H-31.73ZM-28.30 0.67H-29.10L-26.09 -7.82H-25.29Z"/></g>
<g transform="translate(683.35 469.3) rotate(-89.95)"><text class="t" x="-58.86 -52.62 -46.42 -41.85 -35.63 -29.43 -24.86 -18.64 -12.42 -6.20"><tspan class="h">1</tspan>2<tspan class="h">/</tspan>23<tspan class="h">/</tspan>2023</text><path class="p" d="M-54.94 0H-55.94V-6.62L-57.94 -5.89V-6.79L-55.10 -7.86H-54.94ZM-45.29 0.67H-46.09L-43.08 -7.82H-42.28ZM-28.30 0.67H-29.10L-26.09 -7.82H-25.29Z"/></g>
<g transform="translate(695.73 469.3) rotate(-89.95)"><text class="t" x="-58.86 -52.62 -46.42 -41.85 -35.63 -29.43 -24.86 -18.64 -12.42 -6.20"><tspan class="h">1</tspan>2<tspan class="h">/</tspan>25<tspan class="h">/</tspan>2023</text><path class="p" d="M-54.94 0H-55.94V-6.62L-57.94 -5.89V-6.79L-55.10 -7.86H-54.94ZM-45.29 0.67H-46.09L-43.08 -7.82H-42.28ZM-28.30 0.67H-29.10L-26.09 -7.82H-25.29Z"/></g>
<g transform="translate(708.10 469.3) rotate(-89.95)"><text class="t" x="-58.86 -52.62 -46.42 -41.85 -35.63 -29.43 -24.86 -18.64 -12.42 -6.20"><tspan class="h">1</tspan>2<tspan class="h">/</tspan>27<tspan class="h">/</tspan>2023</text><path class="p" d="M-54.94 0H-55.94V-6.62L-57.94 -5.89V-6.79L-55.10 -7.86H-54.94ZM-45.29 0.67H-46.09L-43.08 -7.82H-42.28ZM-28.30 0.67H-29.10L-26.09 -7.82H-25.29Z"/></g>
<g transform="translate(720.47 469.3) rotate(-89.95)"><text class="t" x="-52.64 -46.42 -41.87 -35.63 -29.43 -24.86 -18.64 -12.42 -6.20"><tspan class="h">1/1</tspan>3<tspan class="h">/</tspan>2024</text><path class="p" d="M-48.72 0H-49.72V-6.62L-51.72 -5.89V-6.79L-48.88 -7.86H-48.72ZM-45.29 0.67H-46.09L-43.08 -7.82H-42.28ZM-37.95 0H-38.95V-6.62L-40.95 -5.89V-6.79L-38.11 -7.86H-37.95ZM-28.30 0.67H-29.10L-26.09 -7.82H-25.29Z"/></g>
<g transform="translate(732.85 469.3) rotate(-89.95)"><text class="t" x="-52.64 -46.42 -41.87 -35.63 -29.43 -24.86 -18.64 -12.42 -6.20"><tspan class="h">1/1</tspan>5<tspan class="h">/</tspan>2024</text><path class="p" d="M-48.72 0H-49.72V-6.62L-51.72 -5.89V-6.79L-48.88 -7.86H-48.72ZM-45.29 0.67H-46.09L-43.08 -7.82H-42.28ZM-37.95 0H-38.95V-6.62L-40.95 -5.89V-6.79L-38.11 -7.86H-37.95ZM-28.30 0.67H-29.10L-26.09 -7.82H-25.29Z"/></g>
<g transform="translate(745.22 469.3) rotate(-89.95)"><text class="t" x="-52.64 -46.42 -41.87 -35.63 -29.43 -24.86 -18.64 -12.42 -6.20"><tspan class="h">1/1</tspan>7<tspan class="h">/</tspan>2024</text><path class="p" d="M-48.72 0H-49.72V-6.62L-51.72 -5.89V-6.79L-48.88 -7.86H-48.72ZM-45.29 0.67H-46.09L-43.08 -7.82H-42.28ZM-37.95 0H-38.95V-6.62L-40.95 -5.89V-6.79L-38.11 -7.86H-37.95ZM-28.30 0.67H-29.10L-26.09 -7.82H-25.29Z"/></g>
<g transform="translate(757.60 469.3) rotate(-89.95)"><text class="t" x="-52.64 -46.42 -41.87 -35.63 -29.43 -24.86 -18.64 -12.42 -6.20"><tspan class="h">1/1</tspan>9<tspan class="h">/</tspan>2024</text><path class="p" d="M-48.72 0H-49.72V-6.62L-51.72 -5.89V-6.79L-48.88 -7.86H-48.72ZM-45.29 0.67H-46.09L-43.08 -7.82H-42.28ZM-37.95 0H-38.95V-6.62L-40.95 -5.89V-6.79L-38.11 -7.86H-37.95ZM-28.30 0.67H-29.10L-26.09 -7.82H-25.29Z"/></g>
<g transform="translate(769.97 469.3) rotate(-89.95)"><text class="t" x="-52.64 -46.42 -41.85 -35.65 -29.43 -24.86 -18.64 -12.42 -6.20"><tspan class="h">1/</tspan>2<tspan class="h">1/</tspan>2024</text><path class="p" d="M-48.72 0H-49.72V-6.62L-51.72 -5.89V-6.79L-48.88 -7.86H-48.72ZM-45.29 0.67H-46.09L-43.08 -7.82H-42.28ZM-31.73 0H-32.73V-6.62L-34.73 -5.89V-6.79L-31.89 -7.86H-31.73ZM-28.30 0.67H-29.10L-26.09 -7.82H-25.29Z"/></g>
<g transform="translate(782.34 469.3) rotate(-89.95)"><text class="t" x="-52.64 -46.42 -41.85 -35.63 -29.43 -24.86 -18.64 -12.42 -6.20"><tspan class="h">1/</tspan>23<tspan class="h">/</tspan>2024</text><path class="p" d="M-48.72 0H-49.72V-6.62L-51.72 -5.89V-6.79L-48.88 -7.86H-48.72ZM-45.29 0.67H-46.09L-43.08 -7.82H-42.28ZM-28.30 0.67H-29.10L-26.09 -7.82H-25.29Z"/></g>
<g transform="translate(794.72 469.3) rotate(-89.95)"><text class="t" x="-52.64 -46.42 -41.85 -35.63 -29.43 -24.86 -18.64 -12.42 -6.20"><tspan class="h">1/</tspan>25<tspan class="h">/</tspan>2024</text><path class="p" d="M-48.72 0H-49.72V-6.62L-51.72 -5.89V-6.79L-48.88 -7.86H-48.72ZM-45.29 0.67H-46.09L-43.08 -7.82H-42.28ZM-28.30 0.67H-29.10L-26.09 -7.82H-25.29Z"/></g>
<g transform="translate(807.09 469.3) rotate(-89.95)"><text class="t" x="-52.64 -46.42 -41.85 -35.63 -29.43 -24.86 -18.64 -12.42 -6.20"><tspan class="h">1/</tspan>27<tspan class="h">/</tspan>2024</text><path class="p" d="M-48.72 0H-49.72V-6.62L-51.72 -5.89V-6.79L-48.88 -7.86H-48.72ZM-45.29 0.67H-46.09L-43.08 -7.82H-42.28ZM-28.30 0.67H-29.10L-26.09 -7.82H-25.29Z"/></g>
<g transform="translate(819.47 469.3) rotate(-89.95)"><text class="t" x="-52.64 -46.42 -41.85 -35.63 -29.43 -24.86 -18.64 -12.42 -6.20"><tspan class="h">1/</tspan>29<tspan class="h">/</tspan>2024</text><path class="p" d="M-48.72 0H-49.72V-6.62L-51.72 -5.89V-6.79L-48.88 -7.86H-48.72ZM-45.29 0.67H-46.09L-43.08 -7.82H-42.28ZM-28.30 0.67H-29.10L-26.09 -7.82H-25.29Z"/></g>
<g transform="translate(831.84 469.3) rotate(-89.95)"><text class="t" x="-52.64 -46.42 -41.85 -35.65 -29.43 -24.86 -18.64 -12.42 -6.20"><tspan class="h">1/</tspan>3<tspan class="h">1/</tspan>2024</text><path class="p" d="M-48.72 0H-49.72V-6.62L-51.72 -5.89V-6.79L-48.88 -7.86H-48.72ZM-45.29 0.67H-46.09L-43.08 -7.82H-42.28ZM-31.73 0H-32.73V-6.62L-34.73 -5.89V-6.79L-31.89 -7.86H-31.73ZM-28.30 0.67H-29.10L-26.09 -7.82H-25.29Z"/></g>
<g transform="translate(844.21 469.3) rotate(-89.95)"><text class="t" x="-46.40 -40.20 -35.63 -29.43 -24.86 -18.64 -12.42 -6.20">2<tspan class="h">/</tspan>2<tspan class="h">/</tspan>2024</text><path class="p" d="M-39.07 0.67H-39.87L-36.86 -7.82H-36.06ZM-28.30 0.67H-29.10L-26.09 -7.82H-25.29Z"/></g>
<g transform="translate(856.59 469.3) rotate(-89.95)"><text class="t" x="-46.40 -40.20 -35.63 -29.43 -24.86 -18.64 -12.42 -6.20">2<tspan class="h">/</tspan>4<tspan class="h">/</tspan>2024</text><path class="p" d="M-39.07 0.67H-39.87L-36.86 -7.82H-36.06ZM-28.30 0.67H-29.10L-26.09 -7.82H-25.29Z"/></g>
<g transform="translate(868.96 469.3) rotate(-89.95)"><text class="t" x="-46.40 -40.20 -35.63 -29.43 -24.86 -18.64 -12.42 -6.20">2<tspan class="h">/</tspan>6<tspan class="h">/</tspan>2024</text><path class="p" d="M-39.07 0.67H-39.87L-36.86 -7.82H-36.06ZM-28.30 0.67H-29.10L-26.09 -7.82H-25.29Z"/></g>
<g transform="translate(881.34 469.3) rotate(-89.95)"><text class="t" x="-46.40 -40.20 -35.63 -29.43 -24.86 -18.64 -12.42 -6.20">2<tspan class="h">/</tspan>8<tspan class="h">/</tspan>2024</text><path class="p" d="M-39.07 0.67H-39.87L-36.86 -7.82H-36.06ZM-28.30 0.67H-29.10L-26.09 -7.82H-25.29Z"/></g>
<g transform="translate(893.71 469.3) rotate(-89.95)"><text class="t" x="-52.62 -46.42 -41.87 -35.63 -29.43 -24.86 -18.64 -12.42 -6.20">2<tspan class="h">/1</tspan>0<tspan class="h">/</tspan>2024</text><path class="p" d="M-45.29 0.67H-46.09L-43.08 -7.82H-42.28ZM-37.95 0H-38.95V-6.62L-40.95 -5.89V-6.79L-38.11 -7.86H-37.95ZM-28.30 0.67H-29.10L-26.09 -7.82H-25.29Z"/></g>
<g transform="translate(906.08 469.3) rotate(-89.95)"><text class="t" x="-52.62 -46.42 -41.87 -35.63 -29.43 -24.86 -18.64 -12.42 -6.20">2<tspan class="h">/1</tspan>2<tspan class="h">/</tspan>2024</text><path class="p" d="M-45.29 0.67H-46.09L-43.08 -7.82H-42.28ZM-37.95 0H-38.95V-6.62L-40.95 -5.89V-6.79L-38.11 -7.86H-37.95ZM-28.30 0.67H-29.10L-26.09 -7.82H-25.29Z"/></g>
<g transform="translate(918.46 469.3) rotate(-89.95)"><text class="t" x="-52.62 -46.42 -41.87 -35.63 -29.43 -24.86 -18.64 -12.42 -6.20">2<tspan class="h">/1</tspan>4<tspan class="h">/</tspan>2024</text><path class="p" d="M-45.29 0.67H-46.09L-43.08 -7.82H-42.28ZM-37.95 0H-38.95V-6.62L-40.95 -5.89V-6.79L-38.11 -7.86H-37.95ZM-28.30 0.67H-29.10L-26.09 -7.82H-25.29Z"/></g>
<g transform="translate(930.83 469.3) rotate(-89.95)"><text class="t" x="-52.62 -46.42 -41.87 -35.63 -29.43 -24.86 -18.64 -12.42 -6.20">2<tspan class="h">/1</tspan>6<tspan class="h">/</tspan>2024</text><path class="p" d="M-45.29 0.67H-46.09L-43.08 -7.82H-42.28ZM-37.95 0H-38.95V-6.62L-40.95 -5.89V-6.79L-38.11 -7.86H-37.95ZM-28.30 0.67H-29.10L-26.09 -7.82H-25.29Z"/></g>
<g transform="translate(943.21 469.3) rotate(-89.95)"><text class="t" x="-52.62 -46.42 -41.87 -35.63 -29.43 -24.86 -18.64 -12.42 -6.20">2<tspan class="h">/1</tspan>8<tspan class="h">/</tspan>2024</text><path class="p" d="M-45.29 0.67H-46.09L-43.08 -7.82H-42.28ZM-37.95 0H-38.95V-6.62L-40.95 -5.89V-6.79L-38.11 -7.86H-37.95ZM-28.30 0.67H-29.10L-26.09 -7.82H-25.29Z"/></g>
<g transform="translate(955.58 469.3) rotate(-89.95)"><text class="t" x="-52.62 -46.42 -41.85 -35.63 -29.43 -24.86 -18.64 -12.42 -6.20">2<tspan class="h">/</tspan>20<tspan class="h">/</tspan>2024</text><path class="p" d="M-45.29 0.67H-46.09L-43.08 -7.82H-42.28ZM-28.30 0.67H-29.10L-26.09 -7.82H-25.29Z"/></g>
<g transform="translate(967.95 469.3) rotate(-89.95)"><text class="t" x="-52.62 -46.42 -41.85 -35.63 -29.43 -24.86 -18.64 -12.42 -6.20">2<tspan class="h">/</tspan>22<tspan class="h">/</tspan>2024</text><path class="p" d="M-45.29 0.67H-46.09L-43.08 -7.82H-42.28ZM-28.30 0.67H-29.10L-26.09 -7.82H-25.29Z"/></g>
<g transform="translate(980.33 469.3) rotate(-89.95)"><text class="t" x="-52.62 -46.42 -41.85 -35.63 -29.43 -24.86 -18.64 -12.42 -6.20">2<tspan class="h">/</tspan>24<tspan class="h">/</tspan>2024</text><path class="p" d="M-45.29 0.67H-46.09L-43.08 -7.82H-42.28ZM-28.30 0.67H-29.10L-26.09 -7.82H-25.29Z"/></g>
<g transform="translate(992.70 469.3) rotate(-89.95)"><text class="t" x="-52.62 -46.42 -41.85 -35.63 -29.43 -24.86 -18.64 -12.42 -6.20">2<tspan class="h">/</tspan>26<tspan class="h">/</tspan>2024</text><path class="p" d="M-45.29 0.67H-46.09L-43.08 -7.82H-42.28ZM-28.30 0.67H-29.10L-26.09 -7.82H-25.29Z"/></g>
</svg>
</body></html>
